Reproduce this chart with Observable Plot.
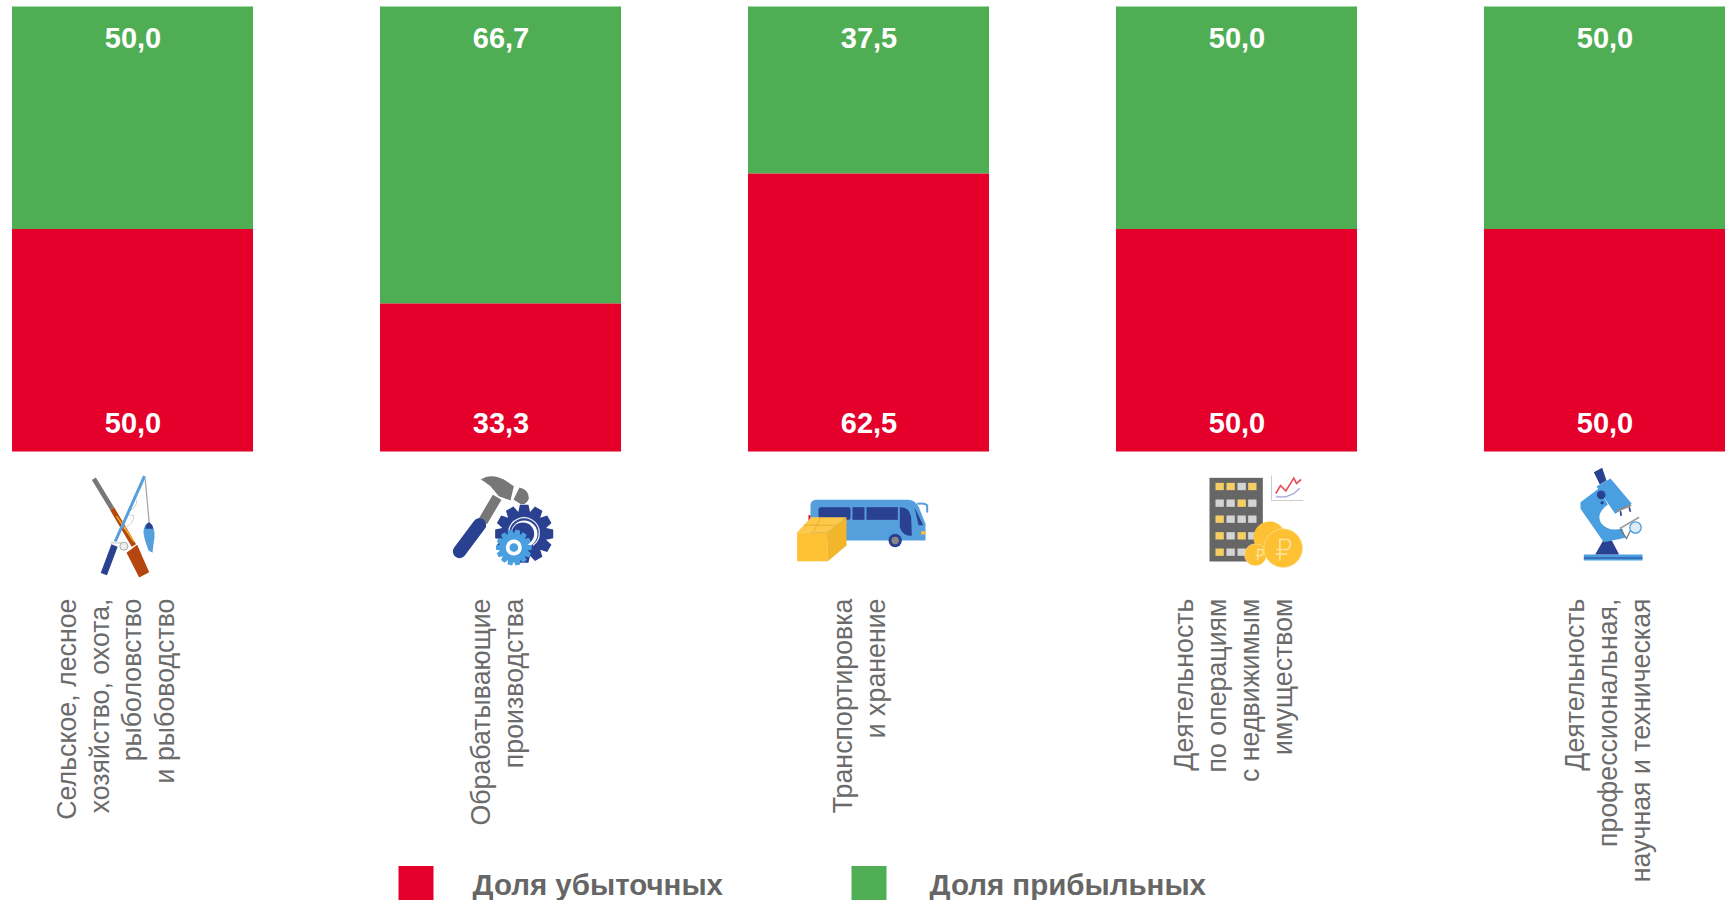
<!DOCTYPE html>
<html lang="ru">
<head>
<meta charset="utf-8">
<script src="https://cdn.jsdelivr.net/npm/d3@7"></script>
<script src="https://cdn.jsdelivr.net/npm/@observablehq/plot@0.6"></script>
<style>
html,body{margin:0;padding:0;background:#fff;overflow:hidden}
svg{display:block}
</style>
</head>
<body>
<div id="chart"></div>
<script>
const categories = ["agri", "manuf", "transport", "realty", "science"];
const labels = [
  "Сельское, лесное\nхозяйство, охота,\nрыболовство\nи рыбоводство",
  "Обрабатывающие\nпроизводства",
  "Транспортировка\nи хранение",
  "Деятельность\nпо операциям\nс недвижимым\nимуществом",
  "Деятельность\nпрофессиональная,\nнаучная и техническая"
];
const lossShare = [50.0, 33.3, 62.5, 50.0, 50.0];
const profitShare = [50.0, 66.7, 37.5, 50.0, 50.0];
const seriesNames = ["Доля убыточных", "Доля прибыльных"];
const seriesColors = ["#e4002b", "#4fae53"];

const labelShift = [-18.5, -5, -11, -5, 1.5];

const rows = categories.flatMap((c, i) => [
  {category: c, series: seriesNames[0], value: lossShare[i]},
  {category: c, series: seriesNames[1], value: profitShare[i]}
]);
const fmt = v => v.toFixed(1).replace(".", ",");
const FONT = '"Liberation Sans", Arial, sans-serif';

function gear(cx, cy, ro, ri, n, fill) {
  let p = "";
  const st = Math.PI * 2 / n;
  for (let k = 0; k < n; k++) {
    const a = k * st;
    [[ri, -0.5], [ro, -0.28], [ro, 0.28], [ri, 0.5]].forEach(([r, t]) => {
      const b = a + t * st;
      p += (p ? "L" : "M") + (cx + r * Math.cos(b)).toFixed(1) + " " + (cy + r * Math.sin(b)).toFixed(1);
    });
  }
  return `<path d="${p}Z" fill="${fill}"/>`;
}
const NAVY = "#2a4090", SKY = "#559fdd", GRAY = "#777", YEL = "#fdc133";

const icons = [
  {w: 90, h: 120, dx: -7.5, dy: 73.5, svg: `
    <path d="M40 40L95 130" stroke="${GRAY}" stroke-width="14"/>
    <path d="M95 130L160 240" stroke="#b5460f" stroke-width="15"/>
    <path d="M138 262L170 238L206 320L176 336Z" fill="#b5460f"/>
    <path d="M108 152L160 228" stroke="#f5b21b" stroke-width="4"/>
    <path d="M160 95Q182 112 150 135Q128 150 160 150Q160 175 130 190" fill="none" stroke="#d0d0d0" stroke-width="3"/>
    <path d="M192 32L104 228" stroke="${SKY}" stroke-width="9"/>
    <path d="M102 240L70 326" stroke="${NAVY}" stroke-width="20"/>
    <path d="M90 232L125 232" stroke="#ddd" stroke-width="6"/>
    <circle cx="130" cy="242" r="12" fill="#eee" stroke="#aaa" stroke-width="3"/>
    <path d="M194 40L206 170" stroke="#a0a0a0" stroke-width="3.5"/>
    <path d="M206 170Q224 185 222 215Q218 240 216 262L204 255L198 238Q186 205 190 190Q195 172 206 170Z" fill="${SKY}"/>
    <path d="M206 170Q218 178 218 190L194 190Q196 174 206 170Z" fill="${NAVY}"/>`},
  {w: 115, h: 110, dx: 2, dy: 68.5, svg: `
    <path d="M155 95L112 168" stroke="${GRAY}" stroke-width="30"/>
    <path d="M102 178L42 258" stroke="${NAVY}" stroke-width="40" stroke-linecap="round"/>
    <path d="M106 42Q135 22 175 42L205 62L195 105L160 92L135 62Q120 50 106 42Z" fill="${GRAY}"/>
    <path d="M222 66Q250 72 250 98Q244 118 226 116L204 102Z" fill="${GRAY}"/>
    ${gear(236, 205, 88, 68, 12, NAVY)}
    <circle cx="236" cy="205" r="40" fill="#fff"/>
    <circle cx="232" cy="205" r="34" fill="${NAVY}"/>
    <path d="M190 195A46 46 0 1 1 262 240" fill="none" stroke="#dfe4f0" stroke-width="4"/>
    ${gear(205, 246, 54, 42, 14, "#4a9fe0")}
    <circle cx="205" cy="246" r="24" fill="#fff"/>
    <circle cx="205" cy="246" r="13" fill="#4a9fe0"/>`},
  {w: 145, h: 80, dx: -6, dy: 78.5, svg: `
    <path d="M60 42Q62 28 78 28L355 28Q375 30 385 50L405 100L405 150L60 150Z" fill="${SKY}"/>
    <path d="M380 40Q405 36 410 45L410 66" fill="none" stroke="${SKY}" stroke-width="6"/>
    <rect x="84" y="50" width="96" height="38" rx="6" fill="${NAVY}"/>
    <rect x="186" y="50" width="36" height="38" fill="${NAVY}"/>
    <rect x="228" y="50" width="94" height="38" fill="${NAVY}"/>
    <path d="M328 50Q355 48 362 80L364 136Q335 136 328 110Z" fill="${NAVY}"/>
    <path d="M372 50L398 104L384 104Z" fill="${NAVY}"/>
    <rect x="392" y="122" width="13" height="10" fill="${YEL}"/>
    <rect x="54" y="74" width="6" height="20" fill="#e4002b"/>
    <circle cx="314" cy="150" r="20" fill="${NAVY}"/>
    <circle cx="314" cy="150" r="11" fill="#888"/>
    <path d="M20 125L112 125L112 212L20 212Z" fill="${YEL}"/>
    <path d="M20 125L62 80L168 80L112 125Z" fill="#fdc94a"/>
    <path d="M112 125L168 80L168 165L112 212Z" fill="#f2b62a"/>
    <path d="M40 104L135 104M90 82L70 122" stroke="#e9ad25" stroke-width="3"/>`},
  {w: 115, h: 110, dx: 21, dy: 68.5, svg: `
    <rect x="27" y="37" width="160" height="251" fill="#666"/>
    ${[52, 102, 150, 200, 249].map((y, r) => [45, 78, 111, 143].map((x, c) => {
      const on = ["1101", "0010", "1000", "1010", "1000"][r][c] === "1";
      return `<rect x="${x}" y="${y}" width="25" height="22" fill="${on ? "#f5cf63" : "#d4d4d4"}"/>`;
    }).join("")).join("")}
    <path d="M213 30L213 105L308 105" fill="none" stroke="#ccc" stroke-width="3"/>
    <path d="M226 84L240 60L256 76L280 38L288 54L302 42" fill="none" stroke="#e8505b" stroke-width="5"/>
    <path d="M226 94L256 94L280 84L298 68" fill="none" stroke="#9aa6d8" stroke-width="4"/>
    <circle cx="207" cy="216" r="48" fill="${YEL}"/>
    <circle cx="165" cy="268" r="33" fill="${YEL}" stroke="#fff" stroke-width="1"/>
    <circle cx="248" cy="248" r="58" fill="${YEL}" stroke="#fde49a" stroke-width="2"/>
    <path d="M238 285L238 222L262 222Q278 232 262 252L228 252M226 266L260 266" fill="none" stroke="#fde49a" stroke-width="5"/>
    <path d="M172 284L172 252L186 252Q192 262 184 270L165 270" fill="none" stroke="#fde49a" stroke-width="4"/>`},
  {w: 90, h: 110, dx: 10.5, dy: 63.5, svg: `
    <rect x="40" y="282" width="176" height="18" fill="#4a9fe0"/>
    <rect x="40" y="291" width="176" height="3" fill="${NAVY}"/>
    <path d="M74 282L98 240L124 240L146 282Z" fill="${NAVY}"/>
    <path d="M70 35L95 22L108 60L88 72Z" fill="${NAVY}"/>
    <path d="M78 78L120 54L184 130L134 160Z" fill="#4a9fe0"/>
    <path d="M85 84L30 125L30 145L100 245L165 232L155 204Q115 215 92 188Q75 160 112 132Z" fill="#4a9fe0"/>
    <circle cx="92" cy="103" r="13" fill="${NAVY}"/>
    <circle cx="95" cy="127" r="5" fill="${NAVY}"/>
    <path d="M138 152L182 134" stroke="#8a8a8a" stroke-width="6"/>
    <path d="M150 152L152 166M176 140L180 154" stroke="${NAVY}" stroke-width="5"/>
    <path d="M148 204L206 170" stroke="#a0a0a0" stroke-width="5"/>
    <path d="M150 206L168 234L180 210" fill="none" stroke="#777" stroke-width="4"/>
    <circle cx="195" cy="201" r="17" fill="#dcecf8" stroke="#4a9fe0" stroke-width="4"/>`}
];
const iconUri = ic => "data:image/svg+xml," + encodeURIComponent(
  `<svg xmlns="http://www.w3.org/2000/svg" viewBox="0 0 ${ic.w * 3} ${ic.h * 3}" width="${ic.w}" height="${ic.h}">${ic.svg}</svg>`);

const chart = Plot.plot({
  width: 1734,
  height: 900,
  marginLeft: 12,
  marginRight: 9,
  marginTop: 6.5,
  marginBottom: 448.5,
  x: {domain: categories, paddingInner: 0.345, paddingOuter: 0, round: false, axis: null},
  y: {domain: [0, 100], axis: null},
  color: {domain: seriesNames, range: seriesColors},
  style: {background: "#fff", fontFamily: FONT},
  marks: [
    Plot.barY(rows, {x: "category", y: "value", fill: "series", order: seriesNames, inset: 0}),
    Plot.text(categories, {
      x: d => d, text: (d, i) => fmt(profitShare[i]), frameAnchor: "top", dy: 20,
      fill: "#fff", fontWeight: "bold", fontSize: 29, fontFamily: FONT
    }),
    Plot.text(categories, {
      x: d => d, text: (d, i) => fmt(lossShare[i]), frameAnchor: "bottom", dy: -19,
      fill: "#fff", fontWeight: "bold", fontSize: 29, fontFamily: FONT
    }),
    ...categories.map((c, i) => Plot.text([c], {
      x: d => d, text: () => labels[i], frameAnchor: "bottom", rotate: -90,
      textAnchor: "end", lineAnchor: "middle", lineHeight: 1.23,
      dx: labelShift[i], dy: 146.5,
      fill: "#6b6b6b", fontSize: 26.75, fontFamily: FONT
    })),
    ...categories.map((c, i) => Plot.image([c], {
      x: d => d, src: () => iconUri(icons[i]), frameAnchor: "bottom",
      width: icons[i].w, height: icons[i].h, dx: icons[i].dx, dy: icons[i].dy
    })),
    Plot.dot(seriesNames, {
      frameAnchor: "bottom-left", symbol: "square", r: 19.75, stroke: null,
      fill: (d, i) => seriesColors[i],
      render(index, scales, values, dims, ctx, next) {
        const g = next(index, scales, values, dims, ctx);
        const offs = [[415.5, 431.5], [868.5, 431.5]];
        d3.select(g).selectAll("path").attr("transform", (_, k) => `translate(${offs[k][0]},${451.5 + offs[k][1]})`);
        return g;
      }
    }),
    ...seriesNames.map((s, i) => Plot.text([s], {
      text: d => d, frameAnchor: "bottom-left", textAnchor: "start",
      dx: [460, 917][i], dy: 443,
      fill: "#666", fontWeight: "bold", fontSize: 29.5, fontFamily: FONT
    }))
  ]
});
document.getElementById("chart").append(chart);
</script>
</body>
</html>
